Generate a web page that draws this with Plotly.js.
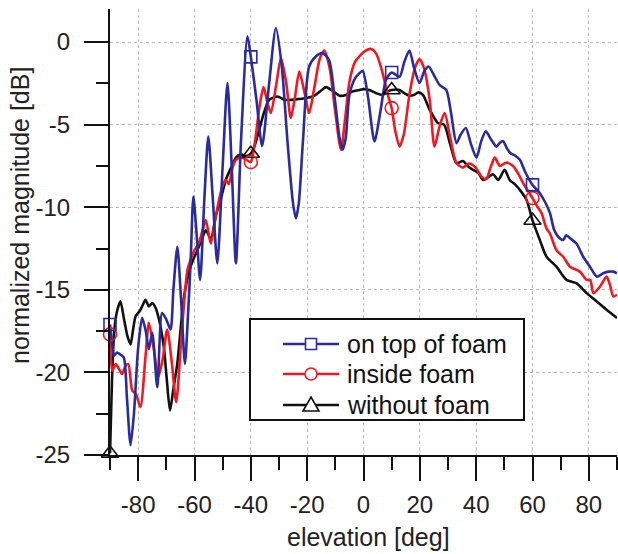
<!DOCTYPE html>
<html>
<head>
<meta charset="utf-8">
<script src="https://cdn.plot.ly/plotly-3.0.1.min.js"></script>
<style>html,body{margin:0;padding:0;background:#fff}#chart{width:618px;height:554px}</style>
</head>
<body>
<div id="chart"></div>
<script>
// ---- data ----
const seriesNames = ["on top of foam", "inside foam", "without foam"];

const blueX = [-90,-89.3,-88.6,-87.5,-86.5,-85.1,-84,-82.7,-81.5,-80,-78.6,-77.3,-76.2,-75,-73.2,-71.5,-70,-68.5,-67.5,-66.1,-64.8,-63.4,-62.3,-61.4,-60.4,-59.3,-58,-56.5,-55.1,-53.5,-51.9,-50,-48.3,-46.8,-45.3,-43.5,-41.2,-40,-38,-36,-33.5,-31.1,-29,-27,-25,-24,-23,-21.5,-19.3,-16.9,-14.5,-12.2,-10.5,-8.5,-7.4,-6.3,-5,-3,-1.5,-0.3,1.5,3.9,6,8,10,12.8,14.5,16.3,18,19.9,21.5,23.1,25,27,29.4,31,33,34.5,36.3,38.2,40.1,41.8,43.4,45.3,47.2,48.4,49.6,50.8,52,54,55.5,57.5,60,62.6,64.5,66.2,67.7,69.2,70.9,72,73.5,75.6,78,80.4,82.8,85.1,87,88.7,90];
const blueY = [-17.1,-18.2,-19.0,-18.8,-18.9,-19.1,-21.5,-24.4,-22.5,-18.5,-16.7,-17.5,-18.6,-17.6,-20.9,-16.4,-16.8,-17.4,-15.0,-12.4,-15.5,-19.5,-16.5,-13.4,-9.36,-11.5,-14.4,-9.5,-5.72,-9.5,-13.4,-7.5,-2.48,-7.5,-13.4,-6.0,0.34,-0.9,-3.5,-6.3,-2.5,0.85,-1.5,-6.0,-9.8,-10.67,-9.8,-6.0,-1.48,-0.87,-0.67,-1.1,-3.0,-5.8,-6.53,-5.8,-3.2,-2.2,-1.9,-1.74,-3.2,-6.02,-4.2,-2.28,-1.84,-2.1,-1.2,-0.51,-1.6,-2.48,-1.8,-1.48,-2.0,-2.6,-2.9,-4.2,-6.12,-5.6,-5.2,-6.2,-7.0,-6.0,-5.4,-5.9,-6.33,-6.1,-6.0,-6.4,-6.7,-6.9,-7.13,-7.9,-8.65,-9.15,-9.7,-10.36,-11.38,-11.8,-11.98,-11.7,-11.9,-12.2,-13.0,-13.6,-14.2,-14.0,-13.9,-13.9,-14.0];

const redX = [-90,-89.2,-88,-86.8,-85.7,-84.5,-83.5,-82.1,-80.8,-79.2,-77.4,-76.2,-74.5,-72.9,-71.3,-69.7,-68,-66.5,-64.5,-62.5,-61,-60,-58.5,-57,-56,-54.2,-52.5,-51.3,-49.8,-48.9,-47.8,-46.5,-45.3,-43.5,-41.8,-40,-38.5,-37,-35.5,-34.2,-32.9,-31,-29.3,-27.5,-25.8,-24.3,-22.8,-21,-19.3,-17.5,-15.5,-13.9,-12,-10.2,-8,-6.5,-5,-3,-1.5,0.5,2.7,4.5,6.5,8.5,10,11.3,12.8,14.3,16.3,18.2,19.9,21.5,23.5,25.2,27,28.8,30.8,33,35.3,37.4,39.8,41.9,43.6,45.1,46.6,48.4,50.7,53.1,55,56.7,60,61.5,63.2,65,66.2,68.5,70.9,73.3,76.8,79.2,80.5,81.6,84,86.3,87.5,88.7,90];
const redY = [-17.7,-19.9,-19.5,-19.8,-20.1,-19.6,-19.5,-21.1,-21.3,-22.1,-19.05,-17.0,-18.5,-20.3,-19.2,-17.4,-19.5,-21.8,-17.5,-13.8,-13.0,-12.6,-12.2,-11.3,-10.77,-12.2,-10.6,-9.56,-8.6,-8.35,-8.6,-7.6,-7.13,-7.0,-7.1,-7.27,-6.0,-4.0,-2.73,-3.6,-4.3,-2.6,-0.97,-2.4,-4.6,-3.3,-1.78,-3.0,-4.3,-2.8,-1.0,-0.51,-1.6,-4.0,-6.53,-4.6,-2.4,-1.2,-0.87,-0.55,-0.42,-0.7,-1.7,-3.1,-4.0,-5.4,-6.33,-5.6,-3.2,-1.6,-1.03,-1.6,-3.5,-6.33,-5.1,-4.3,-5.8,-7.33,-7.6,-7.35,-7.6,-8.15,-8.3,-7.6,-7.0,-7.5,-7.3,-7.5,-8.0,-8.55,-9.45,-9.9,-10.36,-11.3,-11.6,-12.6,-13.0,-13.6,-13.9,-14.4,-14.4,-15.2,-14.8,-14.2,-14.7,-15.4,-15.3];

const blackX = [-90,-89.3,-88.5,-87.5,-86.3,-85,-83.8,-82.7,-81.8,-80.9,-79.5,-78.3,-77.4,-76.2,-75,-73.8,-72.6,-70.9,-69.8,-68.7,-67.5,-66.1,-63.7,-61.4,-59,-57.5,-56,-54.2,-52.5,-50.5,-48.9,-47,-45.3,-43.5,-41.8,-40,-38.5,-37,-35.2,-33.5,-30.5,-28,-25.6,-23,-20.9,-18,-15.5,-13.3,-11,-8.5,-6.2,-4,-1.5,0,2,4.5,6.8,8.5,10,12.8,14.5,16.3,18,19.5,21.1,23.5,26.4,28.6,30.8,33,35.3,37,38.9,40.7,42.4,44.2,46,47.8,50.1,51.9,53.7,55.5,57.9,60,62.6,65,68.5,72.1,75.6,79.2,82.8,86.3,90];
const blackY = [-24.9,-20.5,-17.5,-16.3,-15.7,-16.8,-17.8,-18.3,-17.4,-16.6,-16.3,-15.9,-15.6,-16.0,-15.8,-16.1,-16.8,-18.45,-20.5,-22.3,-21.0,-19.45,-15.4,-13.6,-12.6,-12.0,-11.4,-11.9,-10.57,-9.4,-8.35,-7.6,-7.0,-6.8,-6.9,-6.75,-6.2,-5.3,-4.2,-3.5,-3.3,-3.5,-3.5,-3.45,-3.4,-3.3,-3.0,-2.73,-2.95,-3.25,-3.2,-3.0,-2.9,-2.85,-2.9,-3.1,-3.2,-3.0,-2.9,-2.9,-3.1,-3.25,-3.2,-3.05,-3.2,-4.1,-4.9,-5.0,-6.2,-7.33,-7.2,-7.5,-7.74,-7.9,-8.35,-8.2,-8.0,-8.35,-7.74,-8.35,-8.6,-8.95,-9.56,-10.8,-11.98,-13.0,-13.6,-14.4,-14.6,-15.2,-15.7,-16.2,-16.7];

// marker positions (elevation values where symbols are drawn)
const markerX = [-90, -40, 10, 60];

// tick labels
const xTickVals = [-80,-60,-40,-20,0,20,40,60,80];
const xTickText = ["-80","-60","-40","-20","0","20","40","60","80"];
const yTickVals = [-25,-20,-15,-10,-5,0];
const yTickText = ["-25","-20","-15","-10","-5","0"];

// ---- helpers ----
function interp(xs, ys, x) {
  for (let i = 0; i < xs.length - 1; i++) {
    if (x >= xs[i] && x <= xs[i+1]) {
      const t = (x - xs[i]) / (xs[i+1] - xs[i]);
      return ys[i] + t * (ys[i+1] - ys[i]);
    }
  }
  return ys[ys.length - 1];
}

const FONT = "Liberation Sans, Arial, sans-serif";
const colors = ["#2a2c9e", "#ee1a22", "#111111"];
const symbols = ["square-open", "circle-open", "triangle-up-open"];
const msizes = [12, 13, 15];
const xs = [blueX, redX, blackX];
const ys = [blueY, redY, blackY];

const traces = [];
[2, 1, 0].forEach(i => {
  traces.push({
    x: xs[i], y: ys[i], type: "scatter", mode: "lines", name: seriesNames[i],
    line: {color: colors[i], width: 2.6, shape: "spline", smoothing: 0.7},
    showlegend: false, hoverinfo: "skip"
  });
});
[2, 1, 0].forEach(i => {
  traces.push({
    x: markerX, y: markerX.map(v => interp(xs[i], ys[i], v)),
    type: "scatter", mode: "markers", cliponaxis: false, name: seriesNames[i],
    marker: {symbol: symbols[i], size: msizes[i], color: colors[i], line: {width: 1.6, color: colors[i]}},
    showlegend: false, hoverinfo: "skip"
  });
});

// ---- layout geometry (pixels) ----
const W = 618, H = 554;
const plotL = 110, plotR = 617, plotT = 9, plotB = 455;
const pw = plotR - plotL, ph = plotB - plotT;
const px = v => (v - plotL) / pw;        // pixel x -> paper
const py = v => (plotB - v) / ph;        // pixel y -> paper

// legend box drawn with shapes + annotations
const legBox = {x0: 250, x1: 524, y0: 319, y1: 420};
const legRows = [344, 374, 405];
const legLine = {x0: 283, x1: 339, mid: 311};
const shapes = [{
  type: "rect", xref: "paper", yref: "paper", layer: "above",
  x0: px(legBox.x0), x1: px(legBox.x1), y0: py(legBox.y1), y1: py(legBox.y0),
  fillcolor: "#fff", line: {color: "#111", width: 2}
}];
const annotations = [];
legRows.forEach((ry, i) => {
  shapes.push({type: "line", xref: "paper", yref: "paper", layer: "above",
    x0: px(legLine.x0), x1: px(legLine.x1), y0: py(ry), y1: py(ry),
    line: {color: colors[i], width: 2.6}});
  const r = 6;
  if (i === 0) {
    shapes.push({type: "rect", xref: "paper", yref: "paper", layer: "above",
      x0: px(legLine.mid - 5.5), x1: px(legLine.mid + 5.5), y0: py(ry + 5.5), y1: py(ry - 5.5),
      fillcolor: "#fff", line: {color: colors[i], width: 1.6}});
  } else if (i === 1) {
    shapes.push({type: "circle", xref: "paper", yref: "paper", layer: "above",
      x0: px(legLine.mid - r), x1: px(legLine.mid + r), y0: py(ry + r), y1: py(ry - r),
      fillcolor: "#fff", line: {color: colors[i], width: 1.6}});
  } else {
    const p = `M ${px(legLine.mid)} ${py(ry - 8)} L ${px(legLine.mid + 8)} ${py(ry + 6)} L ${px(legLine.mid - 8)} ${py(ry + 6)} Z`;
    shapes.push({type: "path", xref: "paper", yref: "paper", layer: "above", path: p,
      fillcolor: "#fff", line: {color: colors[i], width: 1.6}});
  }
  annotations.push({text: seriesNames[i], xref: "paper", yref: "paper",
    x: px(345), y: py(ry), xanchor: "left", yanchor: "middle", showarrow: false,
    font: {family: FONT, size: 25, color: "#111"}});
});
annotations.push(
  {text: "elevation [deg]", xref: "paper", yref: "paper",
   x: px(368), y: py(537), xanchor: "center", yanchor: "middle",
   showarrow: false, font: {family: FONT, size: 25, color: "#222"}},
  {text: "normalized magnitude [dB]", xref: "paper", yref: "paper", textangle: -90,
   x: px(20), y: py(216), xanchor: "center", yanchor: "middle",
   showarrow: false, font: {family: FONT, size: 25, color: "#222"}}
);

const axisCommon = {
  ticks: "outside", ticklen: 24, tickwidth: 2, tickcolor: "#111",
  showline: true, linecolor: "#111", linewidth: 2,
  showgrid: true, gridcolor: "#b8b8b8", griddash: "dot", gridwidth: 1,
  zeroline: false, tickfont: {family: FONT, size: 24, color: "#222"}
};

const layout = {
  width: W, height: H,
  margin: {l: plotL, r: W - plotR, t: plotT, b: H - plotB, pad: 0},
  paper_bgcolor: "#fff", plot_bgcolor: "#fff",
  font: {family: FONT, size: 24, color: "#222"},
  showlegend: false,
  xaxis: Object.assign({}, axisCommon, {
    range: [-90, 90], tickmode: "array", tickvals: xTickVals, ticktext: xTickText,
    ticklabelstandoff: 3,
    minor: {tickmode: "linear", tick0: -90, dtick: 10, ticks: "outside", ticklen: 13, tickwidth: 2, tickcolor: "#111", showgrid: false}
  }),
  yaxis: Object.assign({}, axisCommon, {
    range: [-25, 2], tickmode: "array", tickvals: yTickVals, ticktext: yTickText,
    ticklabelstandoff: 9,
    minor: {tickmode: "linear", tick0: 0, dtick: 2.5, ticks: "outside", ticklen: 12, tickwidth: 2, tickcolor: "#111", showgrid: false}
  }),
  shapes: shapes,
  annotations: annotations
};

Plotly.newPlot("chart", traces, layout, {displayModeBar: false, staticPlot: true});
</script>
</body>
</html>
